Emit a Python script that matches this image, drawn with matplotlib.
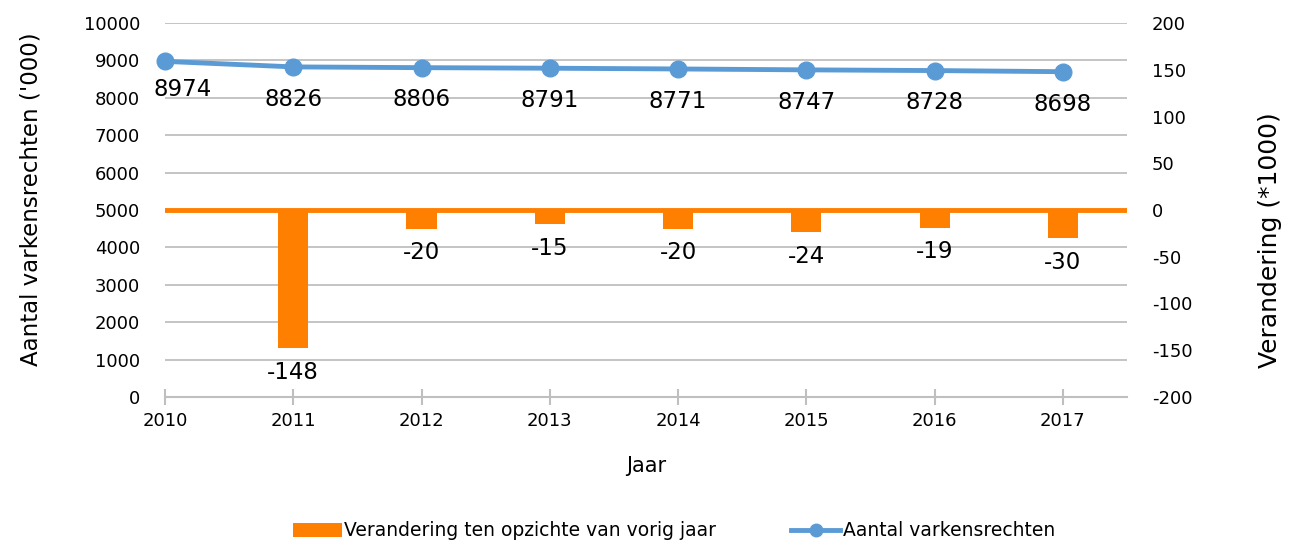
import matplotlib
matplotlib.use("Agg")
import matplotlib.pyplot as plt
from matplotlib.patches import Patch
from matplotlib.lines import Line2D

years = [2010, 2011, 2012, 2013, 2014, 2015, 2016, 2017]
rights = [8974, 8826, 8806, 8791, 8771, 8747, 8728, 8698]
change_years = [2011, 2012, 2013, 2014, 2015, 2016, 2017]
changes = [-148, -20, -15, -20, -24, -19, -30]

blue = "#5B9BD5"
orange = "#FF7F00"
grid_c = "#BFBFBF"

plt.rcParams['font.family'] = ['DejaVu Sans']
plt.rcParams['axes.unicode_minus'] = False

fig = plt.figure(figsize=(12.92, 5.44), dpi=100)
ax = fig.add_axes([165/1292, 1-397/544, (1127-165)/1292, (397-23)/544])
ax2 = ax.twinx()

ax.set_xlim(2010, 2017.5)
ax.set_ylim(0, 10000)
ax2.set_ylim(-200, 200)
ax.set_yticks(range(0, 10001, 1000))
ax2.set_yticks(range(-200, 201, 50))
ax.set_xticks(years)

ax.yaxis.grid(True, color=grid_c, lw=1.3)
ax.set_axisbelow(True)
for a in (ax, ax2):
    for s in ("left", "right", "top", "bottom"):
        a.spines[s].set_visible(False)
ax.spines["bottom"].set_visible(True)
ax.spines["bottom"].set_color(grid_c)
ax.spines["bottom"].set_linewidth(1.5)

ax.tick_params(axis="y", length=0, pad=18, labelsize=13, colors="black")
ax2.tick_params(axis="y", length=0, pad=18, labelsize=13, colors="black")
ax.tick_params(axis="x", direction="inout", length=12, width=1.5, color=grid_c,
               pad=5, labelsize=13)

# zero line and bars on right axis
ax2.axhline(0, color=orange, lw=3.5, zorder=1)
ax2.bar(change_years, changes, width=0.235, color=orange, zorder=2)
for x, v in zip(change_years, changes):
    ax2.annotate(str(v), (x, v), xytext=(0, -9), textcoords="offset points",
                 ha="center", va="top", fontsize=16.5)

# line on left axis scale, drawn on top
ax2.plot(years, rights, color=blue, lw=3.5, marker="o", markersize=12,
         transform=ax.transData, zorder=5, clip_on=False)
for i, (x, v) in enumerate(zip(years, rights)):
    if i == 0:
        ax2.annotate(str(v), (x, v), xytext=(-8, -12), textcoords="offset points",
                     ha="left", va="top", fontsize=16.5, xycoords=ax.transData)
    else:
        ax2.annotate(str(v), (x, v), xytext=(0, -15), textcoords="offset points",
                     ha="center", va="top", fontsize=16.5, xycoords=ax.transData)

ax.set_ylabel("Aantal varkensrechten ('000)", fontsize=16.5)
ax.yaxis.set_label_coords(-122/962, 0.53)
ax2.set_ylabel("Verandering (*1000)", fontsize=18)
ax2.yaxis.set_label_coords(1 + 131/962, 0.42)
ax.set_xlabel("Jaar", fontsize=15)
ax.xaxis.set_label_coords(0.5, -59/374)

handles = [Patch(facecolor=orange, edgecolor="none"),
           Line2D([0], [0], color=blue, lw=3.5, marker="o", markersize=9)]
labels = ["Verandering ten opzichte van vorig jaar", "Aantal varkensrechten"]
fig.legend(handles, labels, loc="center", bbox_to_anchor=(674/1292, 1-531/544),
           ncol=2, frameon=False, fontsize=13.5, columnspacing=4.0,
           handlelength=2.6, handletextpad=0.15)

fig.savefig("out.png", dpi=100)
